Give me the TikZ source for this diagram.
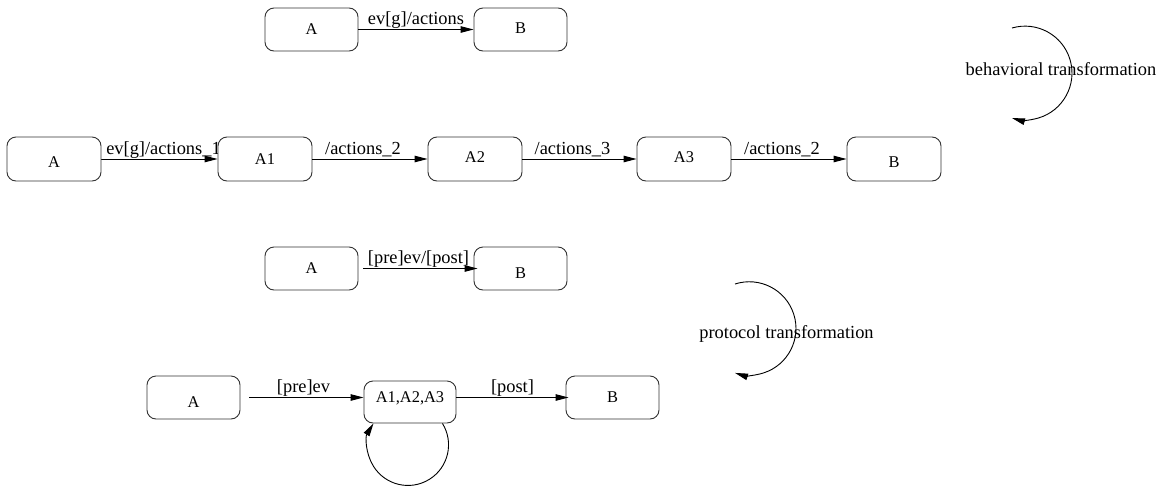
\documentclass[tikz,border=0pt]{standalone}
\usepackage{fontspec}
\setmainfont{Liberation Serif}
\usetikzlibrary{arrows.meta}
\pgfdeclarelayer{background}
\pgfsetlayers{background,main}
\tikzset{
  state/.style={draw=black!80, fill=white, line width=0.9pt, rounded corners=9pt,
    minimum width=93pt, minimum height=43pt, inner sep=0pt,
    text height=10.9pt, text depth=0pt,
    font=\fontsize{16.4}{18}\selectfont},
  conn/.style={line width=0.9pt, -{Triangle[length=13pt,width=6.5pt]}},
  lab/.style={anchor=base, inner sep=0pt, yshift=5pt, font=\fontsize{18.4}{20}\selectfont},
  ttext/.style={anchor=base, inner sep=0pt, font=\fontsize{18.4}{20}\selectfont}
}
\newcommand{\dn}[2]{\raisebox{#1pt}{#2}}
\begin{document}
\begin{tikzpicture}[x=1pt,y=1pt]
\useasboundingbox (0,0) rectangle (1168,-485);
% row 1
\node[state] (a0) at (311.5,-29.5) {A};
\node[state] (b0) at (520.5,-29.5) {\dn{1}{B}};
\draw[conn] (a0) -- (b0) node[midway, lab] {ev[g]/actions};
% row 2
\node[state, minimum width=94pt, minimum height=44pt] (a1) at (54,-159) {\dn{-3.5}{A}};
\node[state, minimum width=94pt, minimum height=44pt] (s1) at (265,-159) {A1};
\node[state, minimum width=94pt, minimum height=44pt] (s2) at (475,-159) {\dn{1.5}{A2}};
\node[state, minimum width=94pt, minimum height=44pt] (s3) at (684,-159) {\dn{1.5}{A3}};
\node[state, minimum width=94pt, minimum height=44pt] (b1) at (894,-159) {\dn{-3.5}{B}};
\begin{pgfonlayer}{background}
\draw[conn] (a1) -- (s1) node[midway, lab, xshift=4pt] {ev[g]/actions\_1};
\end{pgfonlayer}
\draw[conn] (s1) -- (s2) node[midway, lab, xshift=-7pt] {/actions\_2};
\draw[conn] (s2) -- (s3) node[midway, lab, xshift=-7pt] {/actions\_3};
\draw[conn] (s3) -- (b1) node[midway, lab, xshift=-7pt] {/actions\_2};
% behavioral transformation
\node[ttext] (bt) at (1061,-75) {behavioral transformation};
\coordinate (bts) at (1012,-28);
\draw[conn] (bts) arc[start angle=106.2, end angle=-106.2, radius=46.9];
% row 3
\node[state] (a2) at (311.5,-268.5) {A};
\node[state] (b2) at (520.5,-268.5) {\dn{-4.5}{B}};
\draw[conn] ([xshift=5pt]a2.east) -- ([xshift=4pt]b2.west) node[midway, lab, xshift=-2pt] {[pre]ev/[post]};
% protocol transformation
\node[ttext] (pt) at (786.5,-338) {protocol transformation};
\coordinate (pts) at (735,-284);
\draw[conn] (pts) arc[start angle=107.8, end angle=-107.8, radius=46.7];
% row 4
\node[state] (a3) at (193.5,-397.5) {\dn{-5}{A}};
\node[state, minimum width=92pt, minimum height=42pt] (s) at (410,-402) {\dn{4.5}{A1,A2,A3}};
\node[state] (b3) at (612.5,-397.5) {B};
\draw[conn] ([xshift=9pt]a3.east) -- (a3.east -| s.west) node[midway, lab, xshift=-3pt] {[pre]ev};
\draw[conn] (s.east |- b3.west) -- ([xshift=3pt]b3.west) node[midway, lab, xshift=0pt] {[post]};
\coordinate (ls) at ([xshift=-14pt]s.south east);
\draw[conn] (ls) arc[start angle=31.8, end angle=-211.8, radius=40.6];
\end{tikzpicture}
\end{document}
